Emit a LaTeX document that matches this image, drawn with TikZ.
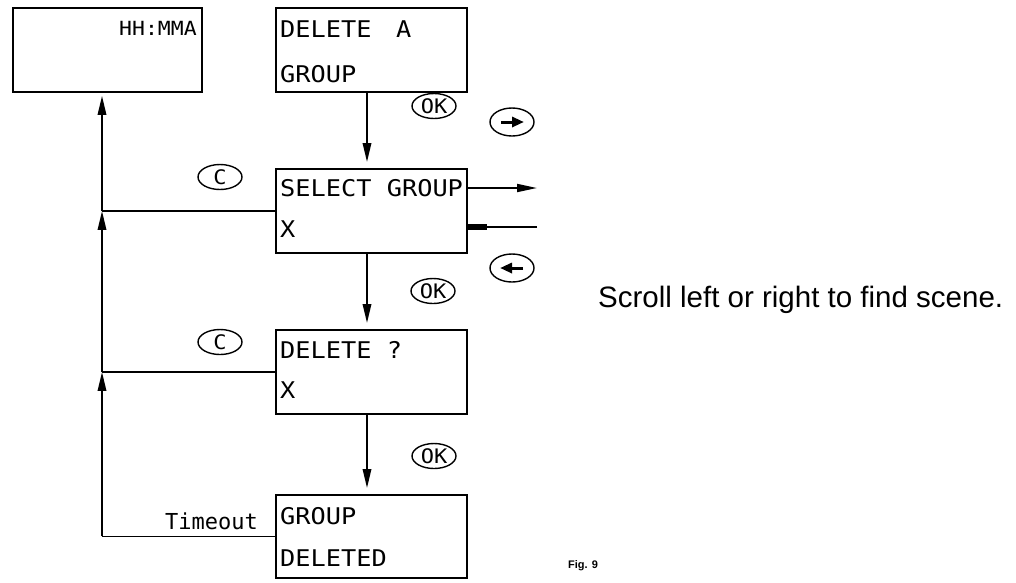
\documentclass[tikz,border=0pt]{standalone}
\usepackage{fontspec}
\setmainfont{Liberation Sans}
\newfontfamily\lcdfont[FakeStretch=1.1]{DejaVu Sans Mono}
\newfontfamily\lcdnarrow{DejaVu Sans Mono}
\usetikzlibrary{arrows.meta,shapes.geometric}

\tikzset{
  screen/.style={draw, line width=1.9pt, minimum width=191pt, minimum height=84pt,
                 anchor=north west, inner sep=0pt},
  lcd/.style={font=\lcdfont\fontsize{23}{23}\selectfont, inner sep=0pt, anchor=base west},
  conn/.style={line width=1.8pt},
  tip/.style={-{Triangle[length=19pt,width=8.5pt]}},
  button/.style={draw, ellipse, line width=1.4pt, minimum width=44pt, minimum height=25pt,
                 inner sep=0pt, font=\lcdfont\fontsize{20}{20}\selectfont},
  keyarrow/.style={line width=3pt, -{Triangle[length=12pt,width=10pt]}},
}

\begin{document}
\begin{tikzpicture}[x=1pt, y=-1pt]
\useasboundingbox (0,0) rectangle (1016,582);

% display screens
\node[screen, minimum width=189pt] (hh)  at (12,7)    {};
\node[screen] (del) at (275,7)   {};
\node[screen] (sel) at (275,168) {};
\node[screen] (dq)  at (275,329) {};
\node[screen, minimum height=83pt] (gd)  at (275,494) {};

% screen texts
\node[lcd, anchor=base east, font=\lcdfont\fontsize{19.5}{19.5}\selectfont] (hh-t) at ([xshift=-6pt,yshift=-28pt]hh.north east) {HH:MMA};
\node[lcd] (del-a) at ([xshift=5pt,yshift=-30pt]del.north west) {DELETE\hspace{0.4em} A};
\node[lcd] (del-b) at ([xshift=5pt,yshift=-75pt]del.north west) {GROUP};
\node[lcd] (sel-a) at ([xshift=5pt,yshift=-28pt]sel.north west) {SELECT GROUP};
\node[lcd] (sel-b) at ([xshift=5pt,yshift=-69pt]sel.north west) {X};
\node[lcd] (dq-a)  at ([xshift=5pt,yshift=-29pt]dq.north west)  {DELETE ?};
\node[lcd] (dq-b)  at ([xshift=5pt,yshift=-69pt]dq.north west)  {X};
\node[lcd] (gd-a)  at ([xshift=5pt,yshift=-30pt]gd.north west)  {GROUP};
\node[lcd] (gd-b)  at ([xshift=5pt,yshift=-72pt]gd.north west)  {DELETED};

% main flow downwards
\coordinate (xf) at (367,0);
\draw[conn, tip, shorten >=6pt] (del.south -| xf) -- (sel.north -| xf);
\draw[conn, tip, shorten >=6pt] (sel.south -| xf) -- (dq.north -| xf);
\draw[conn, tip, shorten >=6pt] (dq.south -| xf) -- (gd.north -| xf);

% return path to the clock display
\coordinate (xr) at (102,0);
\coordinate (j1) at (sel.west -| xr);
\coordinate (j2) at (dq.west -| xr);
\coordinate (j3) at (gd.west -| xr);
\coordinate (jt) at (hh.south -| xr);
\draw[conn] (gd.west) -- (j3);
\draw[conn, tip] (j3) -- (j2);
\draw[conn] (dq.west) -- (j2);
\draw[conn, tip] (j2) -- (j1);
\draw[conn] (sel.west) -- (j1);
\draw[conn, tip, shorten >=3pt] (j1) -- (jt);

\node[lcd, anchor=base east, font=\lcdnarrow\fontsize{22}{22}\selectfont] (tmo) at ([xshift=-17pt,yshift=7pt]gd.west) {Timeout};

% scrolling
\coordinate (rout) at (537,188);
\coordinate (rin)  at (537,227);
\draw[conn, -{Triangle[length=20pt,width=8pt]}] (sel.east |- rout) -- (rout);
\draw[conn, -{Rectangle[length=19pt,width=6.5pt]}] (rin) -- (sel.east |- rin);

% keys
\node[button] (ok1) at (434,106) {OK};
\node[button] (ok2) at (433,291) {OK};
\node[button] (ok3) at (434,456) {OK};
\node[button] (c1)  at (220,177) {C};
\node[button] (c2)  at (220,342) {C};
\node[button, minimum height=28pt] (kr) at (512,122) {};
\node[button, minimum height=28pt] (kl) at (512,268) {};
\draw[keyarrow] ([xshift=-11pt]kr.center) -- ([xshift=12pt]kr.center);
\draw[keyarrow] ([xshift=11pt]kl.center) -- ([xshift=-12pt]kl.center);

% notes
\node[anchor=base west, font=\fontsize{29.5}{29.5}\selectfont, inner sep=0pt] (note) at (598,307) {Scroll left or right to find scene.};
\node[anchor=base west, font=\bfseries\fontsize{11}{11}\selectfont, inner sep=0pt] (fig) at (568,568) {Fig. 9};
\end{tikzpicture}
\end{document}
